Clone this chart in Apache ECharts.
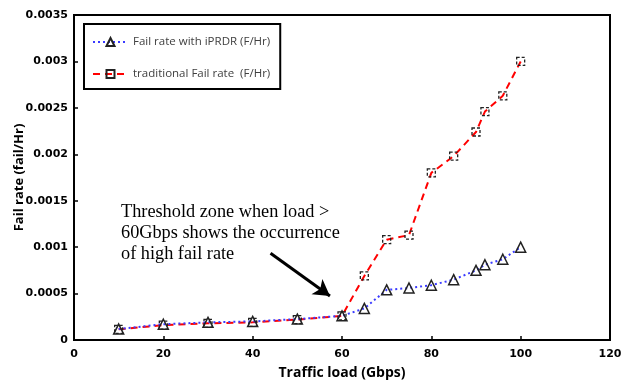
<!DOCTYPE html>
<html><head><meta charset="utf-8">
<script src="https://cdn.jsdelivr.net/npm/echarts@6/dist/echarts.min.js"></script>
<style>html,body{margin:0;padding:0;background:#fff}#c{width:633px;height:383px}</style>
</head><body><div id="c"></div>
<script>
const loadsIPRDR = [10, 20, 30, 40, 50, 60, 65, 70, 75, 80, 85, 90, 92, 96, 100];
const failIPRDR = [0.000118, 0.00017, 0.00019, 0.0002, 0.000225, 0.00026, 0.00034, 0.00054, 0.00056, 0.00059, 0.00065, 0.00075, 0.00081, 0.00087, 0.001];
const loadsTrad = [10, 20, 30, 40, 50, 60, 65, 70, 75, 80, 85, 90, 92, 96, 100];
const failTrad = [0.000115, 0.00016, 0.00018, 0.00019, 0.00022, 0.00026, 0.00069, 0.00108, 0.00113, 0.0018, 0.00198, 0.00224, 0.00246, 0.00263, 0.003];
const seriesNames = ['Fail rate with iPRDR (F/Hr)', 'traditional Fail rate  (F/Hr)'];
const xTicks = [0, 20, 40, 60, 80, 100, 120];
const yTicks = ['0', '0.0005', '0.001', '0.0015', '0.002', '0.0025', '0.003', '0.0035'];
const annotationLines = ['Threshold zone when load >', '60Gbps shows the occurrence', 'of high fail rate'];
const arrowFrom = [44, 0.000934];
const arrowTo = [57.3, 0.000474];

const chart = echarts.init(document.getElementById('c'), null, {renderer: 'canvas'});
const axisFont = {fontFamily: 'DejaVu Sans', fontWeight: 'bold', fontSize: 11, color: '#000'};
chart.setOption({
  animation: false,
  grid: {left: 74, right: 23, top: 15, bottom: 43, show: true, borderColor: '#000', borderWidth: 2,
         containLabel: false, outerBoundsMode: 'none'},
  legend: {
    orient: 'vertical', left: 84, top: 24,
    padding: [12, 10, 9, 8],
    borderColor: '#000', borderWidth: 2,
    itemWidth: 35, itemHeight: 10, itemGap: 20,
    data: seriesNames,
    textStyle: {fontFamily: 'Open Sans', fontSize: 11.5, color: '#404040'}
  },
  xAxis: {
    type: 'value', min: 0, max: 120, interval: 20,
    name: 'Traffic load (Gbps)', nameLocation: 'middle', nameGap: 26, nameMoveOverlap: false,
    nameTextStyle: {fontFamily: 'Open Sans', fontWeight: 'bold', fontSize: 14, color: '#000'},
    axisLine: {show: true, lineStyle: {color: '#000', width: 2}},
    axisTick: {show: true, inside: true, length: 4, lineStyle: {color: '#000', width: 1.5}},
    axisLabel: Object.assign({margin: 9, formatter: v => xTicks.includes(v) ? String(v) : ''}, axisFont),
    splitLine: {show: false}
  },
  yAxis: {
    type: 'value', min: 0, max: 0.0035, interval: 0.0005,
    name: 'Fail rate (fail/Hr)', nameLocation: 'middle', nameGap: 48, nameMoveOverlap: false,
    nameTextStyle: {fontFamily: 'Open Sans', fontWeight: 'bold', fontSize: 13, color: '#000'},
    axisLine: {show: true, lineStyle: {color: '#000', width: 2}},
    axisTick: {show: true, inside: true, length: 4, lineStyle: {color: '#000', width: 1.5}},
    axisLabel: Object.assign({margin: 6, formatter: (v) => yTicks[Math.round(v / 0.0005)]}, axisFont),
    splitLine: {show: false}
  },
  series: [
    {
      name: seriesNames[1], type: 'line', z: 2,
      data: loadsTrad.map((x, i) => [x, failTrad[i]]),
      symbol: 'rect', symbolSize: 8,
      lineStyle: {color: '#ff0000', width: 2, type: [7, 5]},
      itemStyle: {color: 'rgba(255,255,255,0)', borderColor: '#222', borderWidth: 1.3, borderType: [3, 2]},
      markLine: {
        silent: true, symbol: ['none', 'arrow'], symbolSize: [14, 16],
        lineStyle: {color: '#000', width: 3, type: 'solid'},
        label: {show: false},
        data: [[{coord: arrowFrom}, {coord: arrowTo}]]
      }
    },
    {
      name: seriesNames[0], type: 'line', z: 3,
      data: loadsIPRDR.map((x, i) => [x, failIPRDR[i]]),
      symbol: 'triangle', symbolSize: 10,
      lineStyle: {color: '#3a3aff', width: 2, type: [2, 3]},
      itemStyle: {color: 'rgba(255,255,255,0)', borderColor: '#222', borderWidth: 1.5}
    }
  ],
  graphic: [{
    type: 'text', left: 121, top: 202,
    style: {text: annotationLines.join('\n'), font: '18.3px "Liberation Serif"', fill: '#000', lineHeight: 21}
  }]
});
</script></body></html>
